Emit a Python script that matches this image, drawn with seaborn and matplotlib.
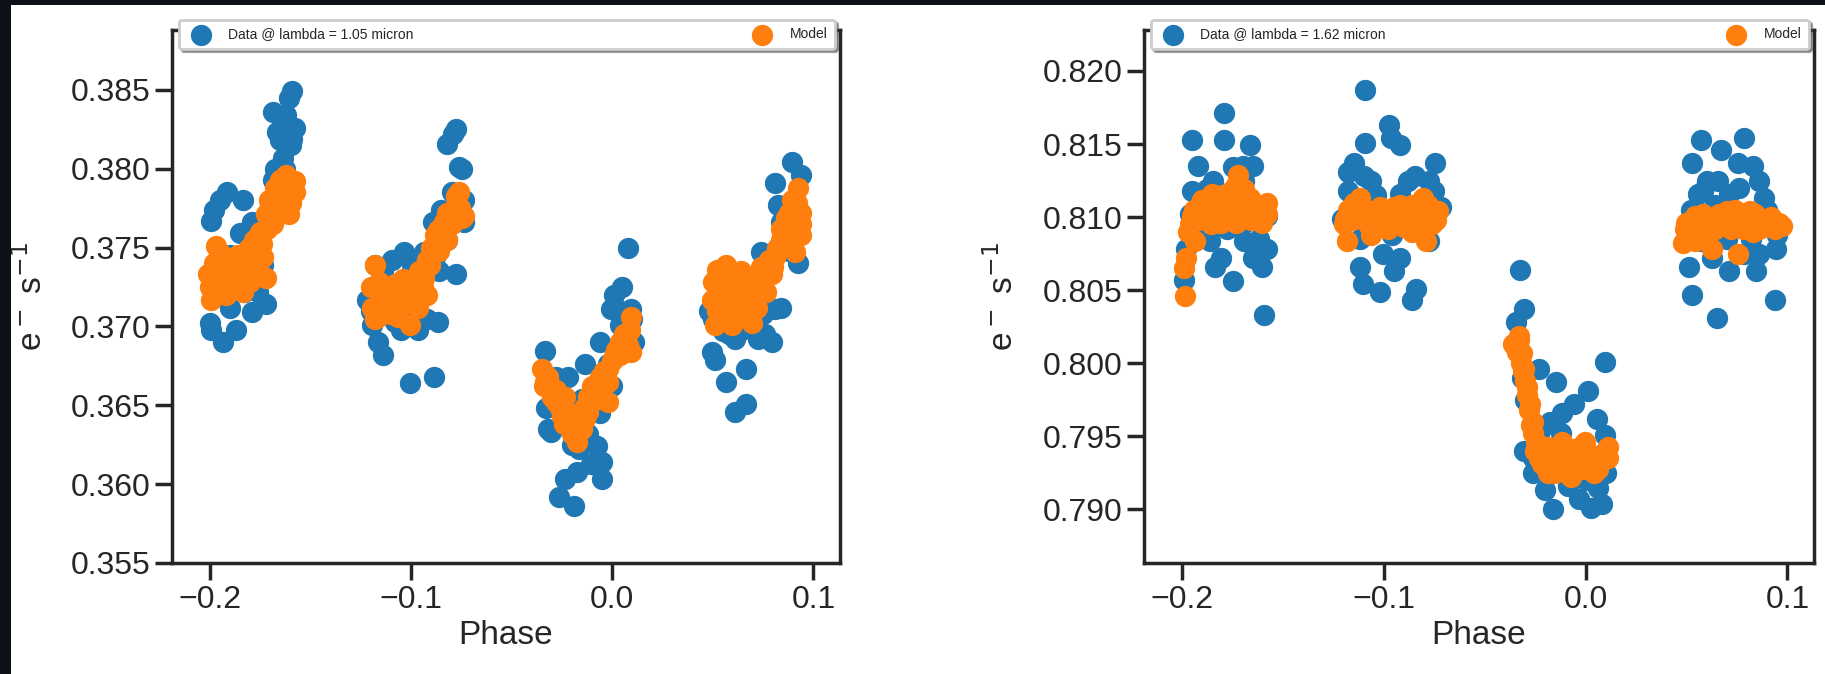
import numpy as np
import pandas as pd
import matplotlib
matplotlib.use("Agg")
import matplotlib.pyplot as plt
from matplotlib.patches import Rectangle
import seaborn as sns

# ---------------- data: lambda = 1.05 micron ----------------
phase_105_data = [
    -0.1994, -0.198, -0.195, -0.1914, -0.1837, -0.2, -0.1994, -0.1937, -0.187, -0.190,
    -0.1794, -0.1723, -0.185, -0.179, -0.1708, -0.169, -0.168, -0.1637, -0.169, -0.1666,
    -0.1594, -0.1608, -0.1623, -0.158, -0.1594, -0.1651, -0.1666, -0.1608, -0.1737, -0.175,
    -0.197, -0.19, -0.183, -0.176, -0.172, -0.167, -0.163, -0.16,
    -0.1179, -0.1194, -0.1165, -0.1142, -0.108, -0.1036, -0.1094, -0.1008, -0.0885, -0.0865,
    -0.0937, -0.0894, -0.0851, -0.0779, -0.0793, -0.0779, -0.0822, -0.0765, -0.0750, -0.0736,
    -0.1051, -0.0965, -0.1222, -0.1108, -0.0994, -0.088, -0.0822, -0.0736,
    -0.12, -0.114, -0.106, -0.098, -0.092, -0.086, -0.08, -0.076,
    -0.0336, -0.0321, -0.0307, -0.0264, -0.0236, -0.0193, -0.0178, -0.0164, -0.0107, -0.005,
    -0.005, -0.0078, -0.0136, -0.0064, -0.0007, 0.0007, 0.0050, 0.0079, 0.0093, 0.0036,
    -0.0293, -0.0222, -0.0150, -0.0036, -0.0022, 0.0064, 0.0107,
    -0.033, -0.028, -0.02, -0.012, -0.006, 0.0, 0.004, 0.01,
    0.0494, 0.0508, 0.0565, 0.0608, 0.0665, 0.0665, 0.0608, 0.0722, 0.0794, 0.0808,
    0.0737, 0.0808, 0.0822, 0.0894, 0.0937, 0.0922, 0.0837, 0.0479, 0.0551, 0.0637, 0.0751,
    0.05, 0.058, 0.068, 0.076, 0.084, 0.088, 0.092,
]
flux_105_data = [
    0.37666, 0.3774, 0.3780, 0.3785, 0.3780, 0.3702, 0.3698, 0.3690, 0.3698, 0.3712,
    0.3709, 0.3714, 0.3759, 0.3766, 0.3774, 0.3793, 0.3800, 0.3807, 0.3836, 0.3823,
    0.3849, 0.3845, 0.3834, 0.3826, 0.3819, 0.3818, 0.3788, 0.3782, 0.3739, 0.3755,
    0.3735, 0.3745, 0.3722, 0.3722, 0.3765, 0.3795, 0.3800, 0.3815,
    0.37388, 0.3701, 0.3690, 0.3682, 0.3703, 0.3747, 0.3742, 0.3664, 0.3668, 0.3703,
    0.3747, 0.3766, 0.3774, 0.3733, 0.3822, 0.3825, 0.3816, 0.3801, 0.3800, 0.3780,
    0.3698, 0.3698, 0.3717, 0.3722, 0.3739, 0.3744, 0.3755, 0.3766,
    0.3710, 0.3735, 0.3705, 0.3712, 0.3705, 0.3735, 0.3785, 0.3778,
    0.36843, 0.3635, 0.3633, 0.3592, 0.3603, 0.3586, 0.3608, 0.3622, 0.3613, 0.3614,
    0.3603, 0.3624, 0.3676, 0.3690, 0.3711, 0.3720, 0.3725, 0.3750, 0.3711, 0.3701,
    0.3663, 0.3668, 0.3654, 0.3652, 0.3676, 0.3690, 0.3690,
    0.3648, 0.3668, 0.3625, 0.3632, 0.3645, 0.3662, 0.3710, 0.3705,
    0.3684, 0.3679, 0.3665, 0.3646, 0.3651, 0.3673, 0.3692, 0.3692, 0.3690, 0.3711,
    0.3747, 0.3791, 0.3777, 0.3804, 0.3796, 0.3740, 0.3766, 0.3710, 0.3697, 0.3697, 0.3708,
    0.3705, 0.3695, 0.3705, 0.3695, 0.3712, 0.3748, 0.3758,
]
phase_105_model = [
    -0.1994, -0.2009, -0.1971, -0.1951, -0.1908, -0.1923, -0.1866, -0.1851, -0.1808, -0.1794,
    -0.1780, -0.1737, -0.1723, -0.1723, -0.1708, -0.168, -0.1651, -0.1623, -0.1594, -0.158,
    -0.1608, -0.1651, -0.1923, -0.1837, -0.1751,
    -0.2, -0.198, -0.196, -0.194, -0.192, -0.19, -0.188, -0.186, -0.184, -0.182,
    -0.18, -0.178, -0.176, -0.174, -0.172, -0.17, -0.168, -0.166, -0.164, -0.162,
    -0.16, -0.158, -0.163, -0.169,
    -0.1179, -0.1194, -0.1151, -0.1108, -0.1051, -0.1008, -0.0994, -0.0937, -0.0908, -0.088,
    -0.0865, -0.0837, -0.0808, -0.0779, -0.0765, -0.075, -0.1065, -0.0965, -0.1165, -0.0922, -0.0822,
    -0.12, -0.118, -0.116, -0.114, -0.112, -0.11, -0.108, -0.106, -0.104, -0.102,
    -0.1, -0.098, -0.096, -0.094, -0.092, -0.09, -0.088, -0.086, -0.084, -0.082,
    -0.08, -0.078, -0.076, -0.074,
    -0.035, -0.0336, -0.0307, -0.0278, -0.025, -0.0207, -0.0178, -0.015, -0.0121, -0.0107,
    -0.0078, -0.005, -0.0022, 0.0007, 0.0036, 0.0064, 0.0093, 0.0093, -0.0022, -0.0236,
    -0.0136, -0.0064,
    -0.034, -0.032, -0.03, -0.028, -0.026, -0.024, -0.022, -0.02, -0.018, -0.016,
    -0.014, -0.012, -0.01, -0.008, -0.006, -0.004, -0.002, 0.0, 0.002, 0.004,
    0.006, 0.008, 0.009,
    0.0522, 0.0494, 0.0508, 0.0551, 0.0594, 0.0608, 0.0637, 0.0680, 0.0722, 0.0765,
    0.0794, 0.0808, 0.0837, 0.0865, 0.0894, 0.0922, 0.0937, 0.0937, 0.0908, 0.0565, 0.0694,
    0.05, 0.052, 0.054, 0.056, 0.058, 0.06, 0.062, 0.064, 0.066, 0.068,
    0.07, 0.072, 0.074, 0.076, 0.078, 0.08, 0.082, 0.084, 0.086, 0.088,
    0.09, 0.092, 0.094,
]
flux_105_model = [
    0.3717, 0.3733, 0.3751, 0.3733, 0.3728, 0.3742, 0.3744, 0.3733, 0.3750, 0.3739,
    0.3755, 0.3744, 0.3731, 0.3771, 0.3780, 0.3788, 0.3793, 0.3796, 0.3791, 0.3785,
    0.3771, 0.3771, 0.3720, 0.3722, 0.3760,
    0.3725, 0.3740, 0.3725, 0.3745, 0.3728, 0.3738, 0.3725, 0.3745, 0.3732, 0.3742,
    0.3728, 0.3745, 0.3738, 0.3752, 0.3762, 0.3775, 0.3770, 0.3782, 0.3778, 0.3785,
    0.3778, 0.3792, 0.3772, 0.3765,
    0.3739, 0.3712, 0.3720, 0.3717, 0.3717, 0.3701, 0.3722, 0.3731, 0.3739, 0.3750,
    0.3761, 0.3766, 0.3772, 0.3777, 0.3785, 0.3769, 0.3706, 0.3712, 0.3706, 0.3720, 0.3755,
    0.3725, 0.3705, 0.3728, 0.3712, 0.3725, 0.3708, 0.3727, 0.3712, 0.3730, 0.3715,
    0.3728, 0.3720, 0.3735, 0.3725, 0.3742, 0.3750, 0.3758, 0.3748, 0.3762, 0.3772,
    0.3765, 0.3783, 0.3775, 0.3770,
    0.3673, 0.3665, 0.3660, 0.3652, 0.3643, 0.3635, 0.3627, 0.3635, 0.3646, 0.3657,
    0.3663, 0.3668, 0.3673, 0.3681, 0.3690, 0.3692, 0.3706, 0.3684, 0.3652, 0.3655,
    0.3641, 0.3654,
    0.3662, 0.3668, 0.3655, 0.3660, 0.3648, 0.3638, 0.3645, 0.3632, 0.3638, 0.3642,
    0.3648, 0.3655, 0.3662, 0.3658, 0.3668, 0.3672, 0.3665, 0.3678, 0.3685, 0.3682,
    0.3695, 0.3688, 0.3698,
    0.3736, 0.3717, 0.3701, 0.3722, 0.3701, 0.3717, 0.3728, 0.3717, 0.3731, 0.3722,
    0.3733, 0.3744, 0.3755, 0.3769, 0.3780, 0.3788, 0.3772, 0.3758, 0.3747, 0.3739, 0.3702,
    0.3728, 0.3710, 0.3732, 0.3712, 0.3730, 0.3725, 0.3708, 0.3735, 0.3722, 0.3730,
    0.3725, 0.3712, 0.3738, 0.3730, 0.3742, 0.3738, 0.3750, 0.3762, 0.3758, 0.3772,
    0.3765, 0.3778, 0.3765,
]

# ---------------- data: lambda = 1.62 micron ----------------
phase_162_data = [
    -0.1951, -0.1794, -0.1794, -0.1923, -0.1951, -0.198, -0.1994, -0.1837, -0.1751, -0.1593,
    -0.1607, -0.1579, -0.1665, -0.1650, -0.1693, -0.188, -0.1865, -0.1693, -0.1650, -0.1894,
    -0.1751, -0.1579, -0.1808,
    -0.196, -0.185, -0.178, -0.17, -0.162, -0.19, -0.17,
    -0.1092, -0.0977, -0.0963, -0.1092, -0.1178, -0.1149, -0.0748, -0.0777, -0.0848, -0.1206,
    -0.1120, -0.1106, -0.1020, -0.0948, -0.0920, -0.0862, -0.0840, -0.1006, -0.0920, -0.0920,
    -0.1063, -0.0777, -0.0719,
    -0.118, -0.11, -0.104, -0.096, -0.088, -0.08, -0.075, -0.112,
    -0.0324, -0.0304, -0.0347, -0.0318, -0.0232, -0.0146, -0.0304, -0.0261, -0.0203, -0.0160,
    -0.0089, -0.0032, 0.0026, 0.0083, 0.0097, 0.0011, -0.0060, -0.0117, -0.0175, 0.0054,
    0.0097, -0.0003, -0.0232,
    -0.03, -0.026, -0.02, -0.012, -0.006, 0.0, 0.006, 0.01, -0.022, -0.012,
    0.0513, 0.0527, 0.0527, 0.0570, 0.0670, 0.0785, 0.0756, 0.0828, 0.0857, 0.0650,
    0.0713, 0.0842, 0.0937, 0.0943, 0.0885, 0.0556, 0.0628, 0.0785, 0.0656, 0.0713, 0.0570,
    0.052, 0.058, 0.064, 0.07, 0.076, 0.082, 0.09, 0.095, 0.06, 0.086,
]
flux_162_data = [
    0.8153, 0.8171, 0.8153, 0.8135, 0.8118, 0.8078, 0.8057, 0.8066, 0.8056, 0.8033,
    0.8066, 0.8078, 0.8149, 0.8135, 0.8125, 0.8119, 0.8084, 0.8084, 0.8072, 0.8096,
    0.8134, 0.8101, 0.8072,
    0.8102, 0.8125, 0.8092, 0.8095, 0.8085, 0.8088, 0.8135,
    0.8187, 0.8163, 0.8154, 0.8151, 0.8131, 0.8137, 0.8137, 0.8125, 0.8128, 0.8099,
    0.8066, 0.8054, 0.8049, 0.8063, 0.8072, 0.8043, 0.8051, 0.8075, 0.8149, 0.8116,
    0.8125, 0.8084, 0.8107,
    0.8118, 0.8128, 0.8115, 0.8088, 0.8125, 0.8092, 0.8118, 0.8085,
    0.8064, 0.8037, 0.8028, 0.7990, 0.7996, 0.7987, 0.7940, 0.7925, 0.7913, 0.7900,
    0.7916, 0.7907, 0.7901, 0.7904, 0.8001, 0.7981, 0.7972, 0.7966, 0.7960, 0.7962,
    0.7951, 0.7937, 0.7949,
    0.7975, 0.7935, 0.7925, 0.7932, 0.7925, 0.7920, 0.7915, 0.7925, 0.7955, 0.7952,
    0.8066, 0.8047, 0.8137, 0.8153, 0.8146, 0.8154, 0.8137, 0.8135, 0.8125, 0.8031,
    0.8063, 0.8063, 0.8043, 0.8078, 0.8113, 0.8116, 0.8072, 0.8075, 0.8125, 0.8116, 0.8084,
    0.8105, 0.8118, 0.8108, 0.8085, 0.8120, 0.8085, 0.8105, 0.8088, 0.8125, 0.8075,
]
phase_162_model = [
    -0.1986, -0.198, -0.1974, -0.1951, -0.1908, -0.188, -0.1837, -0.1808, -0.1779, -0.1736,
    -0.1722, -0.1693, -0.1736, -0.1665, -0.1607, -0.1579, -0.1636, -0.1937, -0.1851,
    -0.196, -0.194, -0.192, -0.19, -0.188, -0.186, -0.184, -0.182, -0.18, -0.178,
    -0.176, -0.174, -0.172, -0.17, -0.168, -0.166, -0.164, -0.162, -0.16, -0.158, -0.199,
    -0.1183, -0.1192, -0.1149, -0.112, -0.1092, -0.1049, -0.102, -0.0977, -0.0948, -0.0906,
    -0.0877, -0.0834, -0.0805, -0.0791, -0.0762, -0.0734, -0.1063, -0.0862,
    -0.12, -0.118, -0.116, -0.114, -0.11, -0.108, -0.106, -0.104, -0.1, -0.098,
    -0.096, -0.094, -0.092, -0.09, -0.088, -0.086, -0.084, -0.082, -0.078, -0.076, -0.074,
    -0.0361, -0.0332, -0.0318, -0.0304, -0.0289, -0.0275, -0.0261, -0.0246, -0.0218, -0.0189,
    -0.0146, -0.0117, -0.0074, -0.0032, -0.0003, 0.0040, 0.0069, 0.0112, -0.0189,
    -0.034, -0.033, -0.032, -0.031, -0.03, -0.029, -0.028, -0.027, -0.026, -0.025,
    -0.023, -0.02, -0.017, -0.013, -0.01, -0.006, -0.002, 0.002, 0.006, 0.009,
    0.011, -0.015, -0.004,
    0.0484, 0.0499, 0.0542, 0.0585, 0.0628, 0.0656, 0.0699, 0.0742, 0.0756, 0.0771,
    0.0814, 0.0857, 0.0885, 0.0928, 0.0971, 0.0542, 0.0828,
    0.049, 0.051, 0.053, 0.056, 0.058, 0.06, 0.062, 0.064, 0.066, 0.068,
    0.07, 0.072, 0.074, 0.076, 0.078, 0.08, 0.082, 0.084, 0.086, 0.088,
    0.09, 0.092, 0.094, 0.096,
]
flux_162_model = [
    0.8046, 0.8072, 0.8090, 0.8101, 0.8110, 0.8101, 0.8107, 0.8096, 0.8110, 0.8122,
    0.8129, 0.8119, 0.8096, 0.8113, 0.8096, 0.8110, 0.8107, 0.8084, 0.8116,
    0.8095, 0.8105, 0.8098, 0.8112, 0.8105, 0.8095, 0.8112, 0.8102, 0.8115, 0.8105,
    0.8118, 0.8112, 0.8120, 0.8108, 0.8112, 0.8098, 0.8105, 0.8098, 0.8105, 0.8102, 0.8065,
    0.8084, 0.8099, 0.8110, 0.8113, 0.8101, 0.8096, 0.8107, 0.8101, 0.8107, 0.8099,
    0.8104, 0.8107, 0.8113, 0.8084, 0.8101, 0.8104, 0.8088, 0.8090,
    0.8095, 0.8105, 0.8098, 0.8108, 0.8105, 0.8095, 0.8104, 0.8098, 0.8105, 0.8092,
    0.8104, 0.8098, 0.8108, 0.8093, 0.8102, 0.8108, 0.8095, 0.8102, 0.8108, 0.8095, 0.8098,
    0.8013, 0.8019, 0.8007, 0.7996, 0.7984, 0.7972, 0.7960, 0.7946, 0.7931, 0.7943,
    0.7940, 0.7946, 0.7922, 0.7940, 0.7946, 0.7925, 0.7937, 0.7943, 0.7925,
    0.8008, 0.8016, 0.8000, 0.7995, 0.7988, 0.7978, 0.7968, 0.7958, 0.7952, 0.7940,
    0.7935, 0.7938, 0.7932, 0.7936, 0.7932, 0.7935, 0.7928, 0.7936, 0.7928, 0.7938,
    0.7935, 0.7925, 0.7942,
    0.8082, 0.8096, 0.8101, 0.8096, 0.8078, 0.8099, 0.8104, 0.8101, 0.8075, 0.8096,
    0.8104, 0.8099, 0.8096, 0.8096, 0.8094, 0.8084, 0.8090,
    0.8092, 0.8085, 0.8098, 0.8092, 0.8102, 0.8090, 0.8098, 0.8092, 0.8102, 0.8095,
    0.8098, 0.8092, 0.8105, 0.8098, 0.8092, 0.8100, 0.8095, 0.8102, 0.8092, 0.8098,
    0.8094, 0.8100, 0.8092, 0.8096,
]

panels = [
    ("Data @ lambda = 1.05 micron", phase_105_data, flux_105_data,
     phase_105_model, flux_105_model, (0.355, 0.3888), [0.355, 0.360, 0.365, 0.370, 0.375, 0.380, 0.385]),
    ("Data @ lambda = 1.62 micron", phase_162_data, flux_162_data,
     phase_162_model, flux_162_model, (0.78634, 0.8228), [0.790, 0.795, 0.800, 0.805, 0.810, 0.815, 0.820]),
]
x_ticks = [-0.2, -0.1, 0.0, 0.1]
x_tick_labels = ["\u22120.2", "\u22120.1", "0.0", "0.1"]

sns.set_theme(style="ticks", context="poster")
plt.rcParams["font.family"] = ["Liberation Sans", "DejaVu Sans"]

W, H = 1825, 674
fig = plt.figure(figsize=(W / 100, H / 100), dpi=100)
fig.patch.set_facecolor("white")

ax_boxes = [
    (172 / W, (674 - 563) / H, 668 / W, 533 / H),
    (1144 / W, (674 - 563) / H, 670 / W, 533 / H),
]

blue = "#1f77b4"
orange = "#ff7f0e"

for (label, pd_, fd_, pm_, fm_, ylim, yt), box in zip(panels, ax_boxes):
    ax = fig.add_axes(box)
    df_d = pd.DataFrame({"phase": pd_, "flux": fd_})
    df_m = pd.DataFrame({"phase": pm_, "flux": fm_})
    sns.scatterplot(data=df_d, x="phase", y="flux", ax=ax, color=blue, s=235,
                    linewidth=0, label=label, legend=False)
    sns.scatterplot(data=df_m, x="phase", y="flux", ax=ax, color=orange, s=235,
                    linewidth=0, label="Model", legend=False)
    ax.set_xlim(-0.219, 0.1132)
    ax.set_ylim(*ylim)
    ax.set_xticks(x_ticks)
    ax.set_xticklabels(x_tick_labels)
    ax.set_yticks(yt)
    ax.set_yticklabels([f"{v:.3f}" for v in yt])
    ax.set_xlabel("Phase", fontsize=24)
    ax.set_ylabel("e$^-$ s$^{-1}$", fontsize=24, labelpad=16)
    ax.tick_params(labelsize=23)
    for sp in ax.spines.values():
        sp.set_visible(True)
    ax.legend(handles=ax.collections[:2], labels=[label, "Model"],
              loc="lower left", bbox_to_anchor=(0.0105, 0.9644, 0.982, 0.06),
              mode="expand", ncol=2, borderaxespad=0, fontsize=10,
              borderpad=0.55, handletextpad=1.0,
              shadow=True, frameon=True, scatterpoints=1)

# dark border strips of the screenshot frame (drawn on top)
fig.patches.append(Rectangle((0, 1 - 5 / H), 1, 5 / H, transform=fig.transFigure,
                             facecolor="#0d1117", edgecolor="none", zorder=10))
fig.patches.append(Rectangle((0, 0), 11 / W, 1, transform=fig.transFigure,
                             facecolor="#0d1117", edgecolor="none", zorder=10))

fig.savefig("out.png", dpi=100, facecolor=fig.get_facecolor())
